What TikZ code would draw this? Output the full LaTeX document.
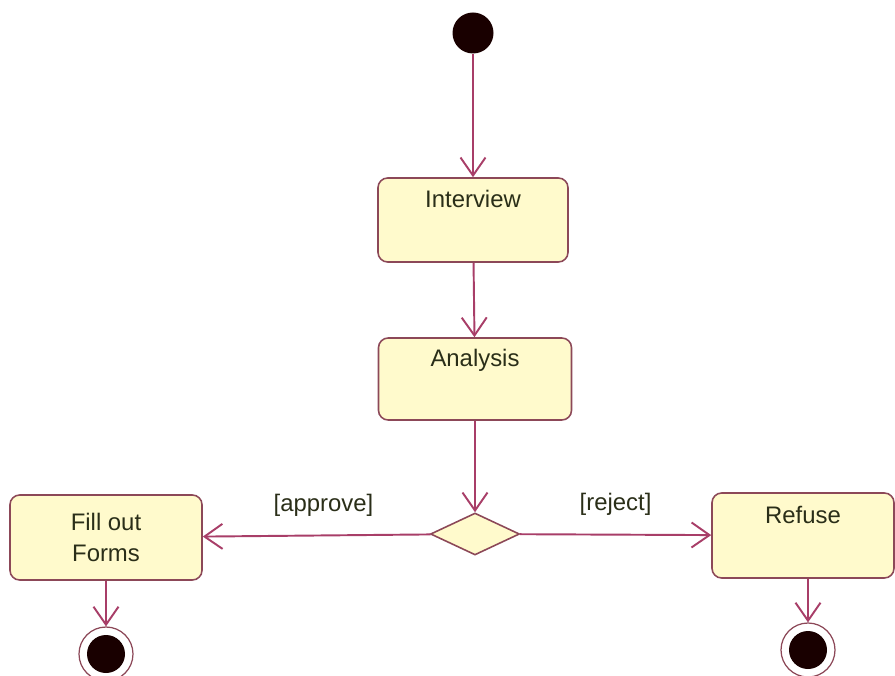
\documentclass[tikz,border=0pt]{standalone}
\usepackage{fontspec}
\setmainfont{Liberation Sans}
\usetikzlibrary{shapes.geometric}
\usetikzlibrary{arrows.meta}

\definecolor{flowline}{RGB}{168,62,104}
\definecolor{boxline}{RGB}{140,72,88}
\definecolor{boxfill}{RGB}{255,250,204}
\definecolor{boxtext}{RGB}{42,46,24}

\tikzset{
  act/.style={rectangle, rounded corners=5.5pt, draw=boxline, line width=0.9pt,
    fill=boxfill, text=boxtext, font=\fontsize{13.6}{17.6}\selectfont,
    align=center, inner sep=0pt},
  acttop/.style={act, text height=10pt, text depth=24pt},
  initial/.style={circle, fill=black!90!red, inner sep=0pt, minimum size=0.82cm},
  final/.style={circle, draw=boxline, line width=0.7pt, inner sep=0pt,
    minimum size=1.08cm,
    path picture={\fill[black!90!red] (path picture bounding box.center) circle (0.38cm);}},
  branch/.style={diamond, draw=boxline, line width=0.9pt, fill=boxfill,
    inner sep=0pt, minimum width=1.78cm, minimum height=0.84cm},
  guard/.style={text=boxtext, font=\fontsize{13.6}{16}\selectfont, inner sep=0pt},
  flow/.style={draw=flowline, line width=1.1pt,
    arrows=-{Straight Barb[length=3.6mm,width=5mm]}}
}

\begin{document}
\begin{tikzpicture}

            %\draw [help lines] (0,0) grid (18,14);
            \useasboundingbox (0,0) rectangle (17.9,13.5);

            \path   (9.46,12.84) node (start) [initial] {}
                    (9.46,9.10) node (interview) [acttop, minimum width=3.8cm, minimum height=1.68cm] {Interview}
                    (9.50,5.92) node (analysis) [acttop, minimum width=3.86cm, minimum height=1.64cm] {Analysis}
                    (9.50,2.82) node (choice) [branch] {}
                    (2.12,2.75) node (forms) [act, minimum width=3.84cm, minimum height=1.70cm] {Fill out\\Forms}
                    (16.06,2.79) node (refuse) [acttop, minimum width=3.64cm, minimum height=1.70cm] {Refuse}
                    (2.12,0.42) node (formsend) [final] {}
                    (16.16,0.50) node (refuseend) [final] {};

            \draw[flow] (node cs: name=start) -- (node cs: name=interview);
            \draw[flow] (node cs: name=interview) -- (node cs: name=analysis);
            \draw[flow] (node cs: name=analysis) -- (node cs: name=choice);
            \draw[flow] (node cs: name=choice) -- (node cs: name=forms)
                node[guard, pos=0.47, above=0.36cm] {[approve]};
            \draw[flow] (node cs: name=choice) -- (node cs: name=refuse)
                node[guard, midway, above=0.36cm] {[reject]};
            \draw[flow] (formsend |- forms.south) -- (formsend.north);
            \draw[flow] (refuseend |- refuse.south) -- (refuseend.north);

\end{tikzpicture}
\end{document}
